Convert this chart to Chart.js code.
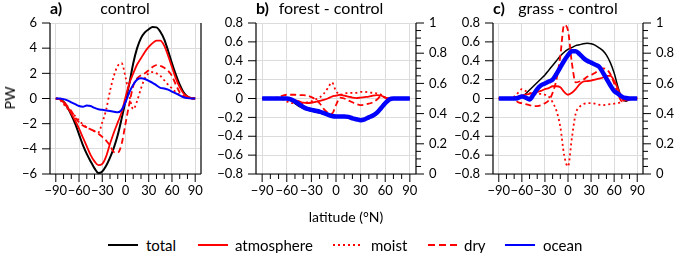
<!DOCTYPE html>
<html><head><meta charset="utf-8">
<script src="https://cdn.jsdelivr.net/npm/chart.js@4.4.1/dist/chart.umd.min.js"></script>
<style>
body{margin:0;width:675px;height:253px;background:#fff;position:relative;overflow:hidden;font-family:Lato,sans-serif;color:#000}
canvas{position:absolute;top:0}
.t{position:absolute;top:0;font-size:16px;line-height:16px;white-space:nowrap}
.b{font-weight:bold}
.c{transform:translateX(-50%)}
.lg{position:absolute;top:236px;font-size:15px;line-height:18px;white-space:nowrap}
svg{position:absolute}
</style></head><body>
<canvas id="ca" width="230" height="205" style="left:0px"></canvas>
<canvas id="cb" width="250" height="205" style="left:210px"></canvas>
<canvas id="cc" width="225" height="205" style="left:450px"></canvas>

<div class="t b" style="left:50px">a)</div>
<div class="t c" style="left:125px">control</div>
<div class="t b" style="left:256px">b)</div>
<div class="t c" style="left:331px">forest - control</div>
<div class="t b" style="left:493px">c)</div>
<div class="t c" style="left:568px">grass - control</div>
<div style="position:absolute;left:10px;top:98px;font-size:14px;line-height:14px;transform:translate(-50%,-50%) rotate(-90deg)">PW</div>
<div style="position:absolute;left:346px;top:208px;font-size:14px;line-height:18px;transform:translateX(-50%);white-space:nowrap">latitude (°N)</div>

<svg style="left:108px;top:240px" width="30" height="10"><line x1="0" y1="5" x2="30" y2="5" stroke="#000" stroke-width="2"/></svg>
<div class="lg" style="left:146px">total</div>
<svg style="left:198px;top:240px" width="30" height="10"><line x1="0" y1="5" x2="30" y2="5" stroke="#ff0000" stroke-width="2"/></svg>
<div class="lg" style="left:235px">atmosphere</div>
<svg style="left:333px;top:240px" width="30" height="10"><line x1="0" y1="5" x2="30" y2="5" stroke="#ff0000" stroke-width="2" stroke-dasharray="2,3"/></svg>
<div class="lg" style="left:371px">moist</div>
<svg style="left:428px;top:240px" width="30" height="10"><line x1="0" y1="5" x2="30" y2="5" stroke="#ff0000" stroke-width="2" stroke-dasharray="7,4"/></svg>
<div class="lg" style="left:464px">dry</div>
<svg style="left:505px;top:240px" width="30" height="10"><line x1="0" y1="5" x2="30" y2="5" stroke="#0000ff" stroke-width="2"/></svg>
<div class="lg" style="left:543px">ocean</div>

<script>
// ---------- data ----------
const lat = [-90,-85,-80,-75,-70,-65,-60,-55,-50,-45,-40,-35,-30,-25,-20,-15,-10,-5,0,5,10,15,20,25,30,35,40,45,50,55,60,65,70,75,80,85,90];
const xTickLabels = [-90,-60,-30,0,30,60,90];

// a) control (PW)
const aTotal = [0,-0.05,-0.25,-0.7,-1.3,-2.0,-2.85,-3.7,-4.4,-5.0,-5.55,-5.93,-5.8,-5.35,-4.7,-3.9,-2.9,-1.6,-0.2,1.2,2.8,4.0,4.8,5.25,5.5,5.68,5.65,5.3,4.7,3.8,2.8,1.9,1.1,0.5,0.15,0.03,0];
const aAtm   = [0,-0.05,-0.3,-0.7,-1.2,-1.75,-2.4,-3.1,-3.8,-4.5,-5.0,-5.3,-5.2,-4.6,-3.6,-2.7,-1.9,-1.1,0.1,1.2,2.0,2.7,3.2,3.7,4.1,4.4,4.6,4.6,4.2,3.4,2.5,1.6,0.9,0.4,0.15,0.03,0];
const aMoist = [0,-0.1,-0.45,-0.8,-1.1,-1.4,-1.75,-2.05,-2.3,-2.45,-2.6,-2.7,-1.9,-0.9,0.6,1.8,2.6,2.8,1.7,0.2,-0.85,-0.2,0.8,1.6,2.0,2.1,2.0,1.8,1.45,1.1,0.8,0.5,0.3,0.1,0.03,0,0];
const aDry   = [0,-0.05,-0.25,-0.6,-1.0,-1.5,-1.9,-2.15,-2.3,-2.45,-2.6,-2.8,-3.05,-3.35,-3.75,-4.25,-4.3,-3.6,-2.0,-0.4,1.0,1.6,1.85,2.0,2.25,2.5,2.65,2.6,2.45,2.2,1.8,1.1,0.5,0.2,0.05,0,0];
const aOcean = [0,0,-0.05,-0.15,-0.3,-0.45,-0.6,-0.65,-0.55,-0.6,-0.75,-0.85,-0.9,-0.95,-1.0,-1.05,-1.1,-0.9,-0.3,0.5,1.1,1.5,1.6,1.55,1.4,1.25,1.05,0.85,0.8,0.7,0.55,0.4,0.25,0.1,0.03,0,0];

// b) forest - control (PW)
const bTotal = [0,0,0,0,0,0,0,-0.02,-0.05,-0.08,-0.1,-0.12,-0.13,-0.14,-0.15,-0.16,-0.17,-0.185,-0.19,-0.19,-0.19,-0.195,-0.21,-0.22,-0.23,-0.22,-0.2,-0.19,-0.16,-0.1,-0.04,-0.01,0,0,0,0,0];
const bAtm   = [0,0,0,0,0,0,0,-0.01,-0.02,-0.03,-0.045,-0.05,-0.045,-0.035,-0.025,-0.015,0,0.02,0.03,0.04,0.03,0.02,0.01,0.005,0.01,0.015,0.02,0.03,0.035,0.03,0.01,0,0,0,0,0,0];
const bMoist = [0,0,0,0,0,-0.01,-0.03,-0.05,-0.05,-0.06,-0.05,-0.04,-0.03,-0.01,0.01,0.05,0.11,0.17,0.08,0.04,0.05,0.06,0.06,0.06,0.07,0.07,0.065,0.06,0.055,0.04,0.01,0,0,0,0,0,0];
const bDry   = [0,0,0,0.005,0.015,0.03,0.04,0.04,0.04,0.035,0.035,0.03,0.015,-0.01,-0.05,-0.11,-0.15,-0.16,-0.07,0.01,0,-0.02,-0.04,-0.06,-0.07,-0.065,-0.055,-0.04,-0.01,0.025,0.01,0,0,0,0,0,0];
const bOcean = [0,0,0,0,0,0,0,-0.01,-0.03,-0.06,-0.09,-0.11,-0.12,-0.13,-0.14,-0.155,-0.17,-0.185,-0.19,-0.19,-0.19,-0.195,-0.21,-0.22,-0.23,-0.22,-0.2,-0.18,-0.15,-0.1,-0.05,-0.01,0,0,0,0,0];

// c) grass - control (PW)
const cTotal = [0,0,0,0,0,0,0.02,0.05,0.09,0.13,0.17,0.21,0.25,0.3,0.35,0.4,0.45,0.49,0.52,0.54,0.56,0.57,0.58,0.585,0.58,0.565,0.54,0.51,0.46,0.38,0.27,0.12,0,-0.03,-0.01,0,0];
const cAtm   = [0,0,0,0,0,0.02,0.03,0.04,0.05,0.06,0.07,0.08,0.1,0.11,0.13,0.13,0.12,0.07,0.04,0.06,0.1,0.15,0.18,0.185,0.19,0.2,0.21,0.22,0.24,0.24,0.19,0.1,0,-0.02,-0.01,0,0];
const cMoist = [0,0,0,0,0.02,0.06,0.1,0.08,0.06,0.05,0.05,0.05,0.04,0.02,-0.04,-0.13,-0.3,-0.6,-0.72,-0.42,-0.16,-0.09,-0.06,-0.05,-0.05,-0.055,-0.065,-0.07,-0.065,-0.06,-0.055,-0.05,-0.03,-0.01,0,0,0];
const cDry   = [0,0,0,0,0,-0.04,-0.05,-0.06,-0.07,-0.08,-0.08,-0.07,-0.05,-0.02,0.06,0.2,0.45,0.78,0.72,0.38,0.17,0.18,0.2,0.23,0.25,0.27,0.3,0.32,0.31,0.26,0.16,0.05,-0.03,-0.02,0,0,0];
const cOcean = [0,0,0,0,0,0.005,0.02,0.01,-0.01,0.04,0.1,0.14,0.16,0.18,0.2,0.26,0.33,0.4,0.46,0.5,0.5,0.47,0.43,0.4,0.38,0.36,0.34,0.28,0.21,0.14,0.08,0.05,0.02,0.005,0,0,0];

// ---------- rendering ----------
Chart.defaults.font.family = 'Lato, sans-serif';
Chart.defaults.font.size = 13;
Chart.defaults.color = '#000';

const RED = '#ff0000', BLUE = '#0000ff', BLACK = '#000000';
const minus = s => String(s).replace('-', '\u2212');
const fmt1 = v => { const r = Math.round(v*10)/10; return minus(r === 0 ? '0' : String(r)); };

const axesPlugin = {
  id: 'axesPlugin',
  afterDraw(chart) {
    const {ctx, chartArea: a, scales} = chart;
    const ln = (x1,y1,x2,y2) => { ctx.beginPath(); ctx.moveTo(x1,y1); ctx.lineTo(x2,y2); ctx.stroke(); };
    ctx.save();
    ctx.strokeStyle = '#000';
    ctx.lineWidth = 1.2;
    ln(a.left, a.top, a.left, a.bottom);
    ln(a.left, a.bottom, a.right, a.bottom);
    ln(a.right, a.top, a.right, a.bottom);
    ctx.lineWidth = 1;
    const x = scales.x;
    for (let i = -9; i <= 9; i++) {
      const px = x.getPixelForValue(i*10);
      ln(px, a.bottom, px, a.bottom + (i % 3 === 0 ? 8 : 5));
    }
    const y = scales.y;
    y.ticks.forEach(t => { const py = y.getPixelForValue(t.value); ln(a.left - 8, py, a.left, py); });
    if (scales.y2) {
      const y2 = scales.y2;
      for (let i = 0; i <= 20; i++) {
        const py = y2.getPixelForValue(i*0.05);
        ln(a.right, py, a.right + (i % 4 === 0 ? 8 : 5), py);
      }
    }
    ctx.restore();
  }
};

function series(vals) { return vals.map((v,i) => ({x: lat[i], y: v})); }

function makeChart(id, d, opt) {
  const ds = [
    {label:'total', data: series(d.total), borderColor: BLACK, borderWidth: opt.wTotal, order: 5},
    {label:'atmosphere', data: series(d.atm), borderColor: RED, borderWidth: 1.8, order: 4},
    {label:'moist', data: series(d.moist), borderColor: RED, borderWidth: 1.8, borderDash:[2,3], order: 3},
    {label:'dry', data: series(d.dry), borderColor: RED, borderWidth: 1.8, borderDash:[6,3.5], order: 2},
    {label:'ocean', data: series(d.ocean), borderColor: BLUE, borderWidth: opt.wOcean, order: 1}
  ].map(o => Object.assign({pointRadius:0, fill:false, cubicInterpolationMode:'monotone', borderCapStyle:'butt'}, o));

  const scales = {
    x: {
      type:'linear', min:-97.5, max:97.5,
      afterBuildTicks: s => { s.ticks = xTickLabels.map(v => ({value:v})); },
      afterFit: s => { s.height = 31; },
      ticks: {autoSkip:false, maxRotation:0, minRotation:0, padding:9, callback: v => minus(v)},
      grid: {color:'#dcdcdc', lineWidth:1, drawTicks:false},
      border: {display:false}
    },
    y: {
      type:'linear', position:'left', min: opt.ymin, max: opt.ymax,
      ticks: {stepSize: opt.ystep, padding:13, callback: opt.yfmt},
      afterFit: s => { s.width = opt.yw; },
      grid: {color:'#dcdcdc', lineWidth:1, drawTicks:false},
      border: {display:false}
    }
  };
  if (opt.y2) {
    scales.y2 = {
      type:'linear', position:'right', min:0, max:1,
      ticks: {stepSize:0.2, padding:13, callback: v => String(Math.round(v*10)/10)},
      afterFit: s => { s.width = opt.y2w; },
      grid: {display:false, drawTicks:false},
      border: {display:false}
    };
  }
  return new Chart(document.getElementById(id), {
    type:'line',
    data:{datasets: ds},
    options:{
      responsive:false, animation:false, devicePixelRatio:1,
      layout:{padding:{left:0, top:23, right: opt.padR, bottom:0}},
      plugins:{legend:{display:false}, tooltip:{enabled:false}},
      scales
    },
    plugins:[axesPlugin]
  });
}

makeChart('ca', {total:aTotal, atm:aAtm, moist:aMoist, dry:aDry, ocean:aOcean},
  {wTotal:2, wOcean:2, ymin:-6, ymax:6, ystep:2, yfmt: v => minus(v), yw:50, padR:29, y2:false});
makeChart('cb', {total:bTotal, atm:bAtm, moist:bMoist, dry:bDry, ocean:bOcean},
  {wTotal:2, wOcean:4.5, ymin:-0.8, ymax:0.8, ystep:0.2, yfmt: fmt1, yw:46, padR:0, y2:true, y2w:44});
makeChart('cc', {total:cTotal, atm:cAtm, moist:cMoist, dry:cDry, ocean:cOcean},
  {wTotal:1.5, wOcean:4.5, ymin:-0.8, ymax:0.8, ystep:0.2, yfmt: fmt1, yw:43, padR:0, y2:true, y2w:32});
</script>
</body></html>
